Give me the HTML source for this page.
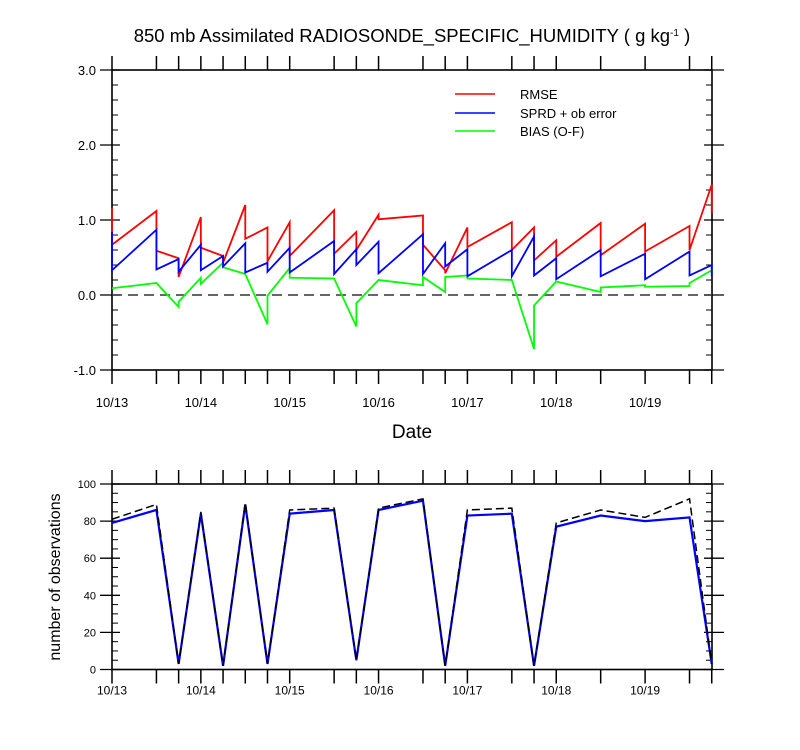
<!DOCTYPE html>
<html><head><meta charset="utf-8"><style>
body{margin:0;background:#fff;width:800px;height:750px;overflow:hidden}
svg{display:block;font-family:"Liberation Sans",Arial,sans-serif}
</style></head><body>
<svg id="chart" width="800" height="750" viewBox="0 0 800 750">
<text x="412" y="42" text-anchor="middle" font-size="18.5">850 mb Assimilated RADIOSONDE_SPECIFIC_HUMIDITY ( g kg<tspan dy="-6" font-size="10">-1</tspan><tspan dy="6"> )</tspan></text>
<text x="412" y="438" text-anchor="middle" font-size="19">Date</text>
<text transform="translate(60,577) rotate(-90)" text-anchor="middle" font-size="16">number of observations</text>
<g id="legend">
<line x1="455" y1="94" x2="495" y2="94" stroke="#f00" stroke-width="1.5"/><text x="520" y="99" font-size="13">RMSE</text>
<line x1="455" y1="113" x2="495" y2="113" stroke="#00f" stroke-width="1.5"/><text x="520" y="118" font-size="13">SPRD + ob error</text>
<line x1="455" y1="131" x2="495" y2="131" stroke="#0f0" stroke-width="1.5"/><text x="520" y="136" font-size="13">BIAS (O-F)</text>
</g>
</svg>
<script>
const times=[0,0.5,0.75,1,1.25,1.5,1.75,2,2.5,2.75,3,3.5,3.75,4,4.5,4.75,5,5.5,6,6.5,6.75];
const dateLabels=["10/13","10/14","10/15","10/16","10/17","10/18","10/19"];
const rmseEnd=[1.16,1.12,0.49,1.04,0.52,1.2,0.9,0.97,1.13,0.84,1.07,1.06,0.33,0.9,0.97,0.9,0.73,0.96,0.95,0.92,1.47];
const rmseStart=[0.67,0.59,0.24,0.63,0.43,0.75,0.45,0.52,0.55,0.6,1.01,0.67,0.29,0.64,0.6,0.46,0.51,0.53,0.58,0.6,1.09];
const sprdEnd=[0.84,0.87,0.48,0.67,0.52,0.69,0.43,0.63,0.72,0.61,0.71,0.81,0.69,0.61,0.6,0.78,0.49,0.6,0.55,0.58,0.4];
const sprdStart=[0.33,0.34,0.31,0.33,0.38,0.3,0.31,0.3,0.28,0.4,0.29,0.28,0.38,0.25,0.25,0.26,0.21,0.25,0.21,0.26,0.25];
const biasEnd=[0.09,0.16,-0.16,0.23,0.43,0.28,-0.39,0.36,0.22,-0.42,0.2,0.13,0.04,0.26,0.2,-0.72,0.18,0.04,0.13,0.12,0.33];
const biasStart=[0.09,0.16,-0.09,0.15,0.37,0.28,-0.01,0.23,0.22,-0.11,0.2,0.24,0.24,0.22,0.2,-0.14,0.18,0.1,0.11,0.16,0.29];
const obsUsed=[79,86,3,84,2,89,3,84,86,5,86,91,2,83,84,2,77,83,80,82,3];
const obsAvail=[81,89,3,85,2,90,3,86,87,5,87,92,2,86,87,2,79,86,82,92,3];
const topTicks=[3,2,1,0,-1];
const obsTicks=[0,20,40,60,80,100];

const NS="http://www.w3.org/2000/svg";
const svg=document.getElementById('chart');
const X0=112,X1=712,DAY=88.85;
const xs=t=>X0+t*DAY;
const yTop=v=>295-v*75;
const yBot=v=>669.5-v*1.855;
function mk(tag,attrs,parent){const e=document.createElementNS(NS,tag);for(const k in attrs)e.setAttribute(k,attrs[k]);(parent||svg).appendChild(e);return e;}

function frame(top,bot,name,lblOff,lblSize){
  const f=mk('rect',{x:X0,y:top,width:X1-X0,height:bot-top,fill:'none',stroke:'#000','stroke-width':1.6});
  
  
  times.forEach(t=>{const x=xs(t);
    mk('line',{x1:x,y1:top,x2:x,y2:top-14,stroke:'#000','stroke-width':1.5});
    mk('line',{x1:x,y1:bot,x2:x,y2:bot+14,stroke:'#000','stroke-width':1.5});});
  dateLabels.forEach((d,i)=>{const t=mk('text',{x:xs(i),y:bot+lblOff,'text-anchor':'middle','font-size':lblSize});t.textContent=d;
    
    });
}
// top panel
frame(70,370,'top-plot-frame',37,13);
for(let v=-1;v<=3.0001;v+=0.2){const y=yTop(v);const major=Math.abs(v-Math.round(v))<1e-6;
  if(major){mk('line',{x1:X0-12,y1:y,x2:X0+8,y2:y,stroke:'#000','stroke-width':1.3});mk('line',{x1:X1-8,y1:y,x2:X1+12,y2:y,stroke:'#000','stroke-width':1.3});}
  else{mk('line',{x1:X0,y1:y,x2:X0+6,y2:y,stroke:'#000'});mk('line',{x1:X1-6,y1:y,x2:X1,y2:y,stroke:'#000'});}}
topTicks.forEach(v=>{const t=mk('text',{x:X0-16,y:yTop(v)+5,'text-anchor':'end','font-size':13});t.textContent=v.toFixed(1);
  
  });
const zl=mk('line',{x1:X0,y1:yTop(0),x2:X1,y2:yTop(0),stroke:'#333','stroke-width':1.6,'stroke-dasharray':'10,6'});


function saw(endA,startA,color,name){
  let d='';
  times.forEach((t,i)=>{const x=xs(t);
    d+=(i===0?'M':'L')+x+','+yTop(endA[i])+' L'+x+','+yTop(startA[i])+' ';});
  const p=mk('path',{d:d,fill:'none',stroke:color,'stroke-width':1.8,'stroke-linejoin':'miter'});
  
  
}
saw(biasEnd,biasStart,'#0f0','bias-line');
saw(rmseEnd,rmseStart,'#f00','rmse-line');
saw(sprdEnd,sprdStart,'#00f','sprd-line');
// bottom panel
frame(484,669.5,'bottom-plot-frame',25,12);
for(let v=0;v<=100;v+=5){const y=yBot(v);
  if(v%20===0){mk('line',{x1:X0-12,y1:y,x2:X0+8,y2:y,stroke:'#000','stroke-width':1.3});mk('line',{x1:X1-8,y1:y,x2:X1+12,y2:y,stroke:'#000','stroke-width':1.3});}
  else{mk('line',{x1:X0,y1:y,x2:X0+6,y2:y,stroke:'#000'});mk('line',{x1:X1-6,y1:y,x2:X1,y2:y,stroke:'#000'});}}
obsTicks.forEach(v=>{const t=mk('text',{x:X0-16,y:yBot(v)+4,'text-anchor':'end','font-size':11});t.textContent=v;
  
  });
function pl(arr,attrs,name){
  const pts=times.map((t,i)=>xs(t)+','+yBot(arr[i])).join(' ');
  attrs.points=pts;attrs.fill='none';
  const p=mk('polyline',attrs);
  
  
}
pl(obsUsed,{stroke:'#00f','stroke-width':2.2},'obs-used-line');
pl(obsAvail,{stroke:'#000','stroke-width':1.5,'stroke-dasharray':'8,4'},'obs-available-line');
</script>
</body></html>
